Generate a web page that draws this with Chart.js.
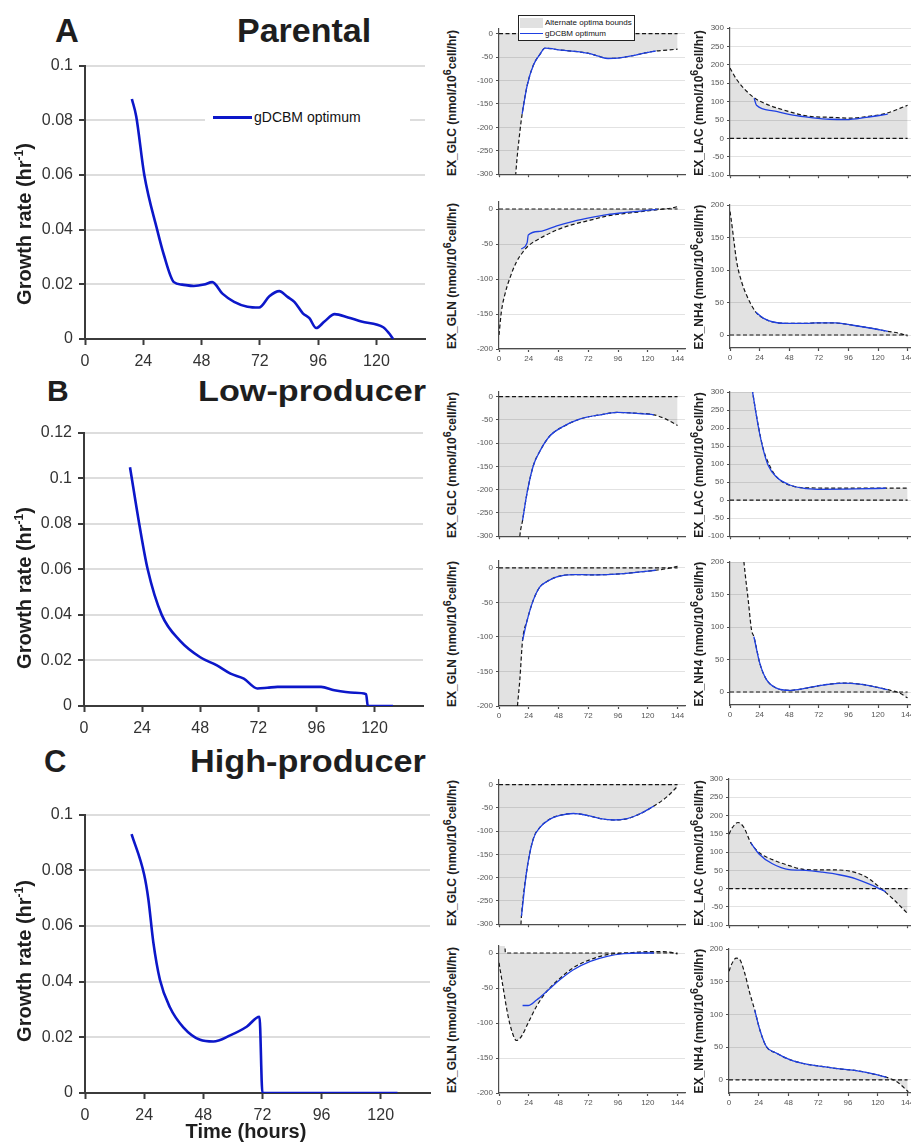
<!DOCTYPE html>
<html>
<head>
<meta charset="utf-8">
<title>gDCBM growth rate and exchange fluxes</title>
<script src="https://cdn.jsdelivr.net/npm/chart.js@4.4.1/dist/chart.umd.min.js"></script>
<style>
  html, body { margin: 0; padding: 0; background: #fff; overflow: hidden; }
  body { position: relative; width: 911px; height: 1142px; font-family: "Liberation Sans", Arial, sans-serif; }
  canvas { position: absolute; }
  .txt { position: absolute; white-space: nowrap; color: #1e1e1e; font-weight: bold; }
  .vert { transform: translate(-50%, -50%) rotate(-90deg); line-height: 1; }
  .vert sup { font-size: 0.9em; vertical-align: 0.45em; line-height: 0; }
  .vert.big sup { font-size: 0.6em; vertical-align: 0.7em; }
  .leg { position: absolute; background: #fff; color: #111; }
  .leg > div { position: absolute; }
</style>
</head>
<body>
<script>
// growth rate of the gDCBM optimum (hr^-1) vs time (h)
const parentalT = [19.3, 21.1, 24.4, 29.7, 32.4, 36.6, 40, 44.8, 49, 52.4, 56.6, 61.4, 66.9, 71.7, 75.9, 80, 83.4, 86.2, 89.7, 92.4, 95.2, 98.6, 102.8, 108.3, 113.8, 122.8, 125.1, 126.9];
const parentalMu = [0.0878, 0.0814, 0.0601, 0.04, 0.031, 0.0208, 0.0199, 0.0194, 0.0199, 0.0208, 0.0166, 0.0136, 0.0118, 0.0115, 0.0156, 0.0175, 0.0154, 0.0136, 0.0094, 0.0076, 0.004, 0.0064, 0.0091, 0.0079, 0.0064, 0.0043, 0.0022, 0];
const lowT = [19, 22.8, 26.3, 32.1, 39.7, 48, 54.9, 60.5, 66, 71.6, 75.7, 79.9, 97.9, 103.4, 111.7, 116.5, 117.2, 127.6];
const lowMu = [0.1048, 0.08, 0.06, 0.04, 0.0286, 0.0214, 0.0178, 0.0142, 0.012, 0.0077, 0.008, 0.0084, 0.0084, 0.0069, 0.0058, 0.0052, 0, 0];
const highT = [18.9, 24, 25.7, 27.7, 30.4, 34.5, 39.9, 46.7, 52.1, 58.9, 65.6, 70.8, 72, 126.8];
const highMu = [0.093, 0.0785, 0.0697, 0.0543, 0.0407, 0.0307, 0.0236, 0.0191, 0.0185, 0.0207, 0.0238, 0.0274, 0, 0];

// exchange fluxes (nmol/10^6 cell/hr): optimum and alternate optima bounds
const zeroT = [0, 144];
const zero = [0, 0];

// parental
const glcA_optT = [18.7, 22.7, 27.6, 33, 37.1, 50, 65, 72.3, 80, 88, 96, 108, 118, 126.4];
const glcA_opt = [-171, -111, -68, -44, -31, -35, -39, -42, -48, -53, -52, -47, -41, -37];
const glcA_lowT = [0, 8, 13.5, 16.8, ...glcA_optT, 136, 144];
const glcA_low = [-900, -550, -300, -210, ...glcA_opt, -35, -33];

const lacA_optT = [19.6, 21.5, 35, 51, 67.3, 80.8, 94.2, 110.4, 127.9];
const lacA_opt = [109, 90, 75, 63, 56, 52, 51, 57, 66];
const lacA_highT = [0, 5.4, 13.5, 20.2, 29.6, 45.8, 62, 83.4, 96.9, 110.4, 126.5, 144];
const lacA_high = [191, 160, 128, 109, 93, 75, 61, 57, 55, 59, 68, 90];

const glnA_optT = [18, 22.7, 23.6, 33, 46.6, 60, 73.6, 87.2, 100.7, 114, 127.8];
const glnA_opt = [-57, -48, -37, -32, -24, -17.6, -12.4, -8, -5.2, -2.9, -0.5];
const glnA_lowT = [0, 1.9, 4.6, 8.7, 14, 19.5, 23.5, 33, 46.6, 60, 73.6, 87.2, 100.7, 114, 127.8, 141, 144.5];
const glnA_low = [-180, -147, -123, -99, -76, -61, -53, -42, -30, -22, -16, -10, -6.6, -4, -1, 2, 4];

const nh4A_optT = [21, 26.9, 35, 45.8, 62, 70, 86, 99.6, 115.7, 127.9];
const nh4A_opt = [35, 26, 20, 18, 17.8, 18.8, 18.5, 15, 10, 5.7];
const nh4A_highT = [0, 0.8, 2.7, 5.4, 9.4, 13.5, ...nh4A_optT, 137.3, 144];
const nh4A_high = [190, 180, 152, 113, 82, 61, ...nh4A_opt, 2.6, -1.5];

// low-producer
const glcB_optT = [19, 22.7, 27.6, 33, 41.1, 52, 65.5, 81.8, 95.3, 108.8, 125];
const glcB_opt = [-266, -206, -149, -117, -84, -64, -48, -39, -34, -35.5, -39];
const glcB_lowT = [0, 10, 16.8, ...glcB_optT, 135.9, 144];
const glcB_low = [-900, -550, -300, ...glcB_opt, -50, -62];

const lacB_optT = [18.3, 22.9, 26.9, 31, 37.7, 48.5, 62, 75.4, 102.3, 126.5];
const lacB_opt = [300, 205, 141, 96, 64, 42, 32, 30, 31, 33];
const lacB_highT = [0, 10, 18.3, 22.9, 26.9, 31, 36, 42, 51.1, 62, 88.8, 144];
const lacB_high = [700, 480, 300, 207, 143, 104, 72, 52, 39, 34, 33.5, 33.5];

const glnB_optT = [19, 22.7, 27.6, 33, 38.4, 46.6, 60, 73.6, 87.2, 100.7, 114, 126.4];
const glnB_opt = [-105, -76, -47, -27.5, -20, -13, -9.6, -10, -9.6, -8.2, -5.8, -3.4];
const glnB_lowT = [0, 10, 14.9, 16.8, ...glnB_optT, 135.9, 144];
const glnB_low = [-500, -320, -200, -162, ...glnB_opt, -1, 2.4];

const nh4B_optT = [19.4, 24.2, 29.6, 37.7, 48.5, 62, 75.4, 91.5, 105, 115.7, 127.9];
const nh4B_opt = [85, 44, 19, 6, 2.6, 6, 10.7, 13.8, 12.2, 8.7, 3.6];
const nh4B_highT = [0, 6, 11.3, 14.8, 17.5, ...nh4B_optT, 137.3, 144];
const nh4B_high = [450, 320, 200, 141, 95, ...nh4B_opt, -1.5, -9];

// high-producer
const glcC_optT = [18.1, 22.2, 27.6, 33, 41.1, 49.3, 60.1, 70.9, 81.8, 92.6, 103.4, 114.2, 125];
const glcC_opt = [-283, -188, -117, -92, -74, -66, -62, -66, -73, -76, -73, -62, -46];
const glcC_lowT = [0, 10, 16, 17.5, ...glcC_optT, 135.9, 144];
const glcC_low = [-900, -600, -380, -310, ...glcC_opt, -25, -3.5];

const lacC_optT = [17.5, 24.2, 35, 48.5, 62, 75.4, 88.8, 102.3, 115.7, 126.5];
const lacC_opt = [126, 95, 68, 52, 50, 45, 38, 27, 9, -9];
const lacC_highT = [0, 2.7, 7.3, 12.1, 17.5, 24.2, 35, 48.5, 62, 75.4, 88.8, 102.3, 113, 121.1, 131.9, 144];
const lacC_high = [149, 167, 181, 167, 126, 99, 79.5, 63, 52, 51.5, 51, 44, 27, 4.5, -27, -68];

const glnC_optT = [19, 23.5, 30.3, 38.4, 49.3, 60, 73.6, 87.2, 100.7, 114.2, 125];
const glnC_opt = [-75, -75, -67, -55, -38, -24, -12, -4.8, -1, 0, 0];
const glnC_lowT = [0, 3.2, 7.3, 10.8, 14, 18.1, 23.5, 30.3, 38.4, 49.3, 60, 73.6, 87.2, 103.4, 119.6, 130.5, 141.3, 144];
const glnC_low = [-14, -48, -90, -114, -125, -119, -100, -76, -55, -36, -21, -9.5, -2.4, 0, 1.9, 1.9, 0, -1.4];
const glnC_highT = [0, 4.3, 5.2, 144];
const glnC_high = [30, 25, 0, 0];

const nh4C_optT = [20.7, 24.8, 30.1, 38.2, 49, 62.5, 75.9, 89.4, 102.8, 113.6, 127];
const nh4C_opt = [107, 77, 51, 41, 31, 24, 20.4, 16.8, 14.3, 10.2, 4];
const nh4C_highT = [0, 1.9, 5.9, 8.6, 12.7, 16.7, ...nh4C_optT, 135.1, 144.6];
const nh4C_high = [166, 176, 186, 184, 163, 133, ...nh4C_opt, -2.5, -18];

Chart.defaults.font.family = '"Liberation Sans", Arial, sans-serif';

const BLUE_B = '#0c17c9';
const BLUE_S = '#1f40e2';
const DASH = '#161616';
const FILL = 'rgba(0, 0, 0, 0.115)';

const BIG = { yw: 56, xhLab: 34, xhBare: 8, padT: 12, padR: 10, axis: '#3b3b3b', axisW: 2, grid: '#dddddd', gridW: 2, tick: 6, font: 16, text: '#333', yPad: 6, xPad: 7 };
const SMALL = { yw: 34, xhLab: 16, xhBare: 6, padT: 8, padR: 6, axis: '#4d4d4d', axisW: 1.2, grid: '#e2e2e2', gridW: 1, tick: 3, font: 8, text: '#555', yPad: 3, xPad: 2 };

const zip = (xs, ys) => xs.map((x, i) => ({ x, y: ys[i] }));
const onStep = step => k => Math.abs(k.value / step - Math.round(k.value / step)) < 1e-6;
const fmt = v => String(+Number(v).toFixed(4));

// canvas is sized so that the chart area lands exactly on `area`
function makeChart(area, st, xMax, yMin, yMax, yStep, xLabels, datasets) {
  const xh = xLabels ? st.xhLab : st.xhBare;
  const canvas = document.createElement('canvas');
  canvas.width = Math.round(st.yw + area.r - area.l + st.padR);
  canvas.height = Math.round(st.padT + area.b - area.t + xh);
  canvas.style.left = (area.l - st.yw) + 'px';
  canvas.style.top = (area.t - st.padT) + 'px';
  document.body.appendChild(canvas);
  return new Chart(canvas, {
    type: 'line',
    data: { datasets },
    options: {
      responsive: false,
      animation: false,
      events: [],
      layout: { autoPadding: false, padding: { top: st.padT, right: st.padR, left: 0, bottom: 0 } },
      plugins: { legend: { display: false }, tooltip: { enabled: false } },
      elements: {
        point: { radius: 0 },
        line: { cubicInterpolationMode: 'monotone', fill: false, borderCapStyle: 'butt' }
      },
      scales: {
        x: {
          type: 'linear', min: 0, max: xMax,
          afterBuildTicks: s => { s.ticks = s.ticks.filter(onStep(24)); },
          afterFit: s => { s.height = xh; },
          ticks: { display: xLabels, stepSize: 24, includeBounds: false, autoSkip: false, maxRotation: 0,
                   color: st.text, font: { size: st.font }, padding: st.xPad, callback: fmt },
          grid: { drawOnChartArea: false, tickLength: st.tick, tickWidth: st.axisW, tickColor: st.axis },
          border: { color: st.axis, width: st.axisW }
        },
        y: {
          type: 'linear', min: yMin, max: yMax,
          afterBuildTicks: s => { s.ticks = s.ticks.filter(onStep(yStep)); },
          afterFit: s => { s.width = st.yw; },
          ticks: { stepSize: yStep, includeBounds: false, autoSkip: false,
                   color: st.text, font: { size: st.font }, padding: st.yPad, callback: fmt },
          grid: { color: st.grid, lineWidth: st.gridW, tickLength: st.tick, tickWidth: st.axisW, tickColor: st.axis },
          border: { color: st.axis, width: st.axisW }
        }
      }
    }
  });
}

function growthPanel(area, t, mu, yMax, xLabels) {
  return makeChart(area, BIG, 140, 0, yMax, 0.02, xLabels, [
    { data: zip(t, mu), borderColor: BLUE_B, borderWidth: 2.6 }
  ]);
}

// optimum on top, dashed bound filled toward the other dashed bound
function fluxPanel(area, yMin, yMax, xLabels, opt, bound, other) {
  return makeChart(area, SMALL, 150, yMin, yMax, 50, xLabels, [
    { data: opt, borderColor: BLUE_S, borderWidth: 1.3 },
    { data: bound, borderColor: DASH, borderWidth: 1.2, borderDash: [4, 2.5], fill: '+1', backgroundColor: FILL },
    { data: other, borderColor: DASH, borderWidth: 1.2, borderDash: [4, 2.5] }
  ]);
}

const zeroLine = () => zip(zeroT, zero);

growthPanel({ l: 85, r: 425, t: 62, b: 339 }, parentalT, parentalMu, 0.1, true);
growthPanel({ l: 84, r: 423, t: 429, b: 706 }, lowT, lowMu, 0.12, true);
growthPanel({ l: 85, r: 430, t: 811, b: 1093 }, highT, highMu, 0.1, true);

fluxPanel({ l: 499, r: 685, t: 29, b: 176 }, -300, 10, false, zip(glcA_optT, glcA_opt), zip(glcA_lowT, glcA_low), zeroLine());
fluxPanel({ l: 730, r: 915, t: 28, b: 177 }, -100, 300, false, zip(lacA_optT, lacA_opt), zip(lacA_highT, lacA_high), zeroLine());
fluxPanel({ l: 499, r: 685, t: 202, b: 349 }, -200, 10, true, zip(glnA_optT, glnA_opt), zip(glnA_lowT, glnA_low), zeroLine());
fluxPanel({ l: 730, r: 915, t: 205, b: 348 }, -20, 200, true, zip(nh4A_optT, nh4A_opt), zip(nh4A_highT, nh4A_high), zeroLine());

fluxPanel({ l: 499, r: 685, t: 392, b: 538 }, -300, 10, false, zip(glcB_optT, glcB_opt), zip(glcB_lowT, glcB_low), zeroLine());
fluxPanel({ l: 730, r: 915, t: 392, b: 538 }, -100, 300, false, zip(lacB_optT, lacB_opt), zip(lacB_highT, lacB_high), zeroLine());
fluxPanel({ l: 499, r: 685, t: 561, b: 706 }, -200, 10, true, zip(glnB_optT, glnB_opt), zip(glnB_lowT, glnB_low), zeroLine());
fluxPanel({ l: 730, r: 915, t: 562, b: 705 }, -20, 200, true, zip(nh4B_optT, nh4B_opt), zip(nh4B_highT, nh4B_high), zeroLine());

fluxPanel({ l: 499, r: 685, t: 780, b: 926 }, -300, 10, false, zip(glcC_optT, glcC_opt), zip(glcC_lowT, glcC_low), zeroLine());
fluxPanel({ l: 729, r: 915, t: 779, b: 927 }, -100, 300, false, zip(lacC_optT, lacC_opt), zip(lacC_highT, lacC_high), zeroLine());
fluxPanel({ l: 499, r: 685, t: 946, b: 1093 }, -200, 10, true, zip(glnC_optT, glnC_opt), zip(glnC_lowT, glnC_low), zip(glnC_highT, glnC_high));
fluxPanel({ l: 729, r: 915, t: 949, b: 1093 }, -20, 200, true, zip(nh4C_optT, nh4C_opt), zip(nh4C_highT, nh4C_high), zeroLine());

// ---- text: panel titles, axis titles, legends ----
function addDiv(cls, html, css) {
  const d = document.createElement('div');
  d.className = cls;
  d.innerHTML = html;
  Object.assign(d.style, css);
  document.body.appendChild(d);
  return d;
}

// places text by its baseline (Liberation Sans metrics, line-height = 1em)
function heading(text, x, baseline, size, sx) {
  addDiv('txt', text, {
    left: x + 'px', top: (baseline - 0.8465 * size) + 'px',
    fontSize: size + 'px', lineHeight: size + 'px',
    transform: 'scaleX(' + (sx || 1) + ')', transformOrigin: 'left top'
  });
}

function vertical(html, cx, cy, size, extra) {
  addDiv('txt vert' + (extra ? ' ' + extra : ''), html, {
    left: cx + 'px', top: cy + 'px', fontSize: size + 'px'
  });
}

heading('A', 55, 42, 33);
heading('Parental', 237, 42, 34);
heading('B', 47, 401, 30);
heading('Low-producer', 198, 401, 30, 1.14);
heading('C', 44, 772, 31);
heading('High-producer', 190, 772, 32, 1.07);

const growthTitle = 'Growth rate (hr<sup>-1</sup>)';
vertical(growthTitle, 24, 224, 20, 'big');
vertical(growthTitle, 24, 588, 20, 'big');
vertical(growthTitle, 24, 961, 20, 'big');

addDiv('txt', 'Time (hours)', {
  left: '246px', top: (1138 - 0.8465 * 20) + 'px', fontSize: '20px', lineHeight: '20px',
  transform: 'translateX(-50%)'
});

const flux = name => 'EX_' + name + ' (nmol/10<sup>6</sup>cell/hr)';
const colL = 452, colR = 699;
vertical(flux('GLC'), colL, 102.5, 12);
vertical(flux('LAC'), colR, 102.5, 12);
vertical(flux('GLN'), colL, 275.5, 12);
vertical(flux('NH4'), colR, 276.5, 12);
vertical(flux('GLC'), colL, 465, 12);
vertical(flux('LAC'), colR, 465, 12);
vertical(flux('GLN'), colL, 633.5, 12);
vertical(flux('NH4'), colR, 633.5, 12);
vertical(flux('GLC'), colL, 853, 12);
vertical(flux('LAC'), colR, 853, 12);
vertical(flux('GLN'), colL, 1019.5, 12);
vertical(flux('NH4'), colR, 1021, 12);

// legend of the growth-rate panel
addDiv('leg', '<div style="left:8px;top:8px;width:39px;height:2.6px;background:' + BLUE_B + '"></div>' +
  '<div style="left:49px;top:0;line-height:19px;font-size:14px">gDCBM optimum</div>', {
  left: '205px', top: '108px', width: '205px', height: '19px'
});

// legend of the flux panels
addDiv('leg', '<div style="left:1px;top:2px;width:23px;height:10px;background:#e1e1e1"></div>' +
  '<div style="left:26px;top:2px;line-height:10px;font-size:8px">Alternate optima bounds</div>' +
  '<div style="left:1px;top:17px;width:23px;height:1.4px;background:' + BLUE_S + '"></div>' +
  '<div style="left:26px;top:13px;line-height:10px;font-size:8px">gDCBM optimum</div>', {
  left: '518px', top: '15px', width: '115px', height: '24px', border: '1px solid #222'
});
</script>
</body>
</html>
